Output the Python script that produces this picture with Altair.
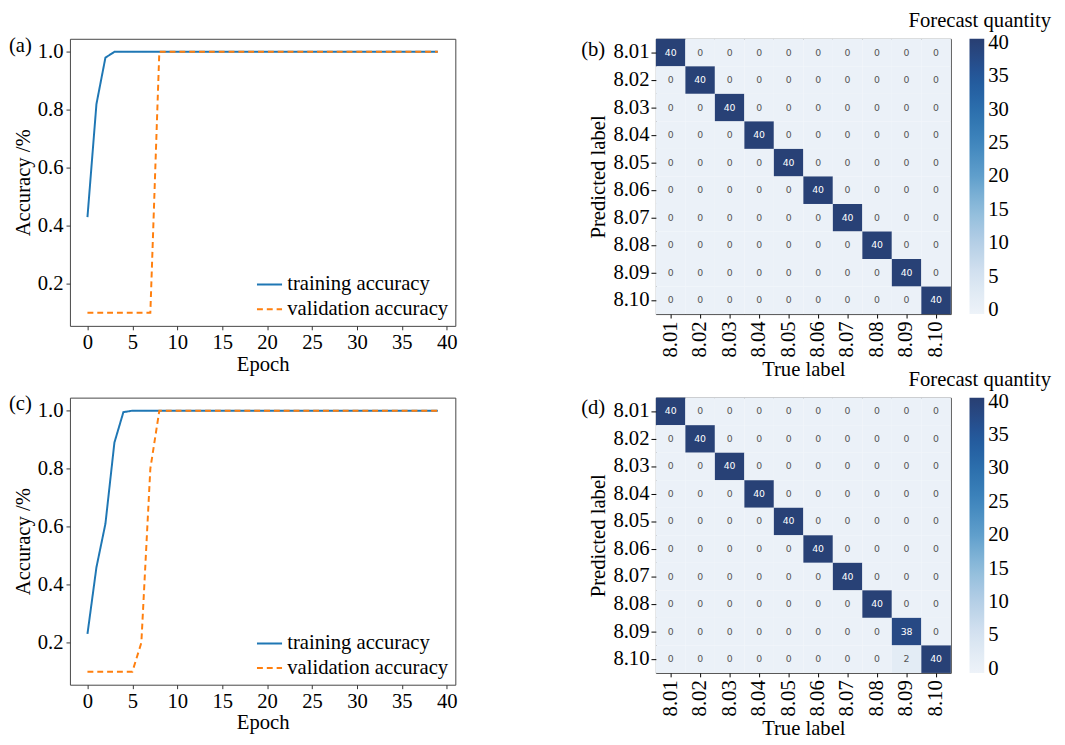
import altair as alt
import pandas as pd

# ---------------- data ----------------
epochs = list(range(40))
train_a = [0.43, 0.82, 0.98, 1.0] + [1.0] * 36
val_a = [0.1] * 8 + [1.0] * 32
train_c = [0.23, 0.46, 0.61, 0.89, 0.995] + [1.0] * 35
val_c = [0.1] * 6 + [0.2, 0.8] + [1.0] * 32

series_names = ["training accuracy", "validation accuracy"]
class_labels = ["8.01", "8.02", "8.03", "8.04", "8.05",
                "8.06", "8.07", "8.08", "8.09", "8.10"]

cm_b = [[40 if i == j else 0 for j in range(10)] for i in range(10)]
cm_d = [[40 if i == j else 0 for j in range(10)] for i in range(10)]
cm_d[8][8] = 38
cm_d[9][8] = 2

x_ticks = [0, 5, 10, 15, 20, 25, 30, 35, 40]
y_ticks = [0.2, 0.4, 0.6, 0.8, 1.0]
cbar_ticks = [0, 5, 10, 15, 20, 25, 30, 35, 40]
cmap_stops = [-0.6, 5, 10, 15, 20, 25, 30, 35, 40.6]
cmap_colors = ["#eef3f9", "#d6e3f1", "#b5cfe6", "#8ebcdb", "#609fcc",
               "#3f86bd", "#2c6fad", "#22579a", "#283e72"]

SERIF = "Liberation Serif"
FS = 21

# ---------------- line panels ----------------
def line_panel(train, val, tag):
    df = pd.DataFrame({
        "epoch": epochs * 2,
        "acc": train + val,
        "series": [series_names[0]] * len(train) + [series_names[1]] * len(val),
    })
    lines = alt.Chart(df).mark_line(strokeWidth=2).encode(
        x=alt.X("epoch:Q", scale=alt.Scale(domain=[-1.95, 40.95], nice=False, zero=False),
                title="Epoch",
                axis=alt.Axis(values=x_ticks, grid=False, domain=False, tickSize=4,
                              tickColor="#333", labelPadding=2, titlePadding=1)),
        y=alt.Y("acc:Q", scale=alt.Scale(domain=[0.055, 1.045], nice=False, zero=False),
                title="Accuracy /%",
                axis=alt.Axis(values=y_ticks, format=".1f", grid=False, domain=False,
                              tickSize=4, tickColor="#333", labelPadding=3, titlePadding=4)),
        color=alt.Color("series:N",
                        scale=alt.Scale(domain=series_names, range=["#1f77b4", "#ff7f0e"]),
                        legend=alt.Legend(title=None, orient="bottom-right", symbolType="stroke",
                                          symbolStrokeWidth=2, symbolSize=650,
                                          labelFont=SERIF, labelFontSize=FS, labelColor="black",
                                          labelLimit=400,
                                          rowPadding=1, offset=5, padding=2)),
        strokeDash=alt.StrokeDash("series:N",
                                  scale=alt.Scale(domain=series_names, range=[[1, 0], [6, 4]]),
                                  legend=alt.Legend(title=None, orient="bottom-right",
                                                    labelLimit=400)),
    )
    lab = alt.Chart(pd.DataFrame({"t": [tag]})).mark_text(
        font=SERIF, fontSize=FS, align="left", baseline="middle", color="black"
    ).encode(text="t:N", x=alt.value(-62), y=alt.value(7))
    return alt.layer(lines, lab).properties(width=392, height=292)


# ---------------- heatmap panels ----------------
def heat_panel(mat, tag):
    rows = []
    for i, p in enumerate(class_labels):
        for j, t in enumerate(class_labels):
            rows.append({"pred": p, "true": t, "n": mat[i][j]})
    df = pd.DataFrame(rows)
    xenc = alt.X("true:O", sort=class_labels, title="True label",
                 axis=alt.Axis(labelAngle=270, domain=False, tickSize=4, tickColor="black",
                               labelPadding=3, titlePadding=2))
    yenc = alt.Y("pred:O", sort=class_labels, title="Predicted label",
                 axis=alt.Axis(domain=False, tickSize=5, tickColor="black",
                               labelPadding=2, titlePadding=5))
    rect = alt.Chart(df).mark_rect(strokeWidth=0).encode(
        x=xenc, y=yenc,
        color=alt.Color("n:Q", scale=alt.Scale(domain=cmap_stops, range=cmap_colors),
                        legend=alt.Legend(title=None, orient="right", offset=19,
                                          gradientLength=280, gradientThickness=15,
                                          values=cbar_ticks, labelFont=SERIF,
                                          labelFontSize=FS, labelColor="black",
                                          labelBaseline="middle",
                                          labelOffset=4, padding=0)),
    )
    txt = alt.Chart(df).mark_text(font="DejaVu Sans", fontSize=9.5).encode(
        x=alt.X("true:O", sort=class_labels),
        y=alt.Y("pred:O", sort=class_labels),
        text="n:Q",
        color=alt.condition(alt.datum.n > 20, alt.value("white"), alt.value("#555555")),
    )
    lab = alt.Chart(pd.DataFrame({"t": [tag]})).mark_text(
        font=SERIF, fontSize=FS, align="left", baseline="middle", color="black"
    ).encode(text="t:N", x=alt.value(-76), y=alt.value(11))
    return alt.layer(rect, txt, lab).properties(
        width=300, height=280,
        title=alt.TitleParams("Forecast quantity", anchor="end", frame="group", dx=102,
                              font=SERIF, fontSize=FS, fontWeight="normal",
                              color="black", offset=8),
    )


a = line_panel(train_a, val_a, "(a)")
c = line_panel(train_c, val_c, "(c)")
b = heat_panel(cm_b, "(b)")
d = heat_panel(cm_d, "(d)")

chart = alt.concat(
    a, b, c, d, columns=2, bounds="flush", spacing={"row": 73, "column": 204}
).resolve_scale(
    color="independent", strokeDash="independent", x="independent", y="independent"
).resolve_legend(
    color="independent", strokeDash="independent"
).properties(
    padding={"left": 0, "top": -5, "right": 5, "bottom": 0},
    background="white",
).configure_view(
    stroke="#444444", strokeWidth=1
).configure_axis(
    labelFont=SERIF, labelFontSize=FS, labelColor="black",
    titleFont=SERIF, titleFontSize=FS, titleColor="black", titleFontWeight="normal",
)

chart.save("out.html", embed_options={"renderer": "svg", "actions": False})
